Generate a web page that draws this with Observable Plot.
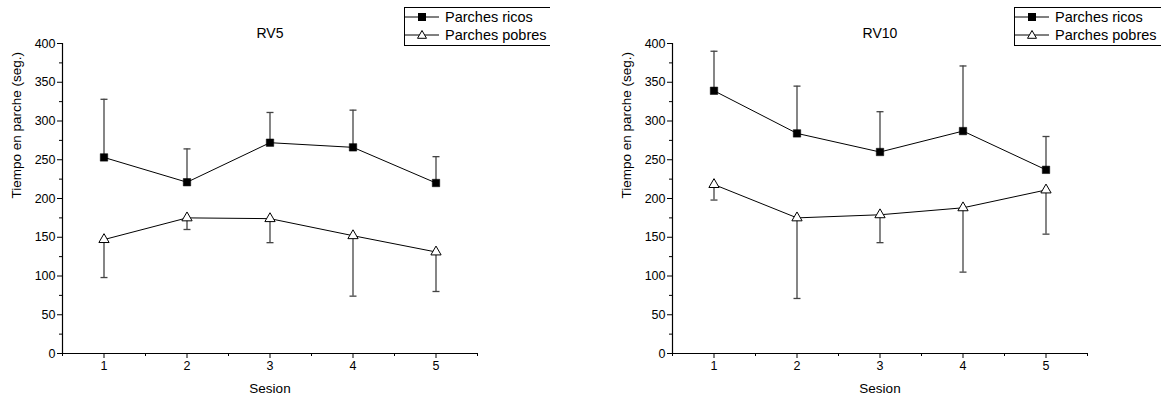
<!DOCTYPE html>
<html>
<head>
<meta charset="utf-8">
<script src="https://cdn.jsdelivr.net/npm/d3@7"></script>
<script src="https://cdn.jsdelivr.net/npm/@observablehq/plot@0.6"></script>
<style>
  html, body { margin: 0; padding: 0; background: #fff; }
  #wrap { position: relative; width: 1169px; height: 405px; display: flex; font-family: "Liberation Sans", Arial, sans-serif; }
  .panel { position: relative; }
  .legend { position: absolute; top: 7px; height: 37px; border: 1px solid #000; border-right: none; overflow: hidden; white-space: nowrap; font-size: 14.5px; background: #fff; }
  .legend .row { height: 18px; display: flex; align-items: center; }
  .legend svg { display: block; }
</style>
</head>
<body>
<div id="wrap"></div>
<script>
// ---- data ----
const sessions = [1, 2, 3, 4, 5];
const yTicks = [0, 50, 100, 150, 200, 250, 300, 350, 400];
const xTicks = [1, 2, 3, 4, 5];
const seriesNames = ["Parches ricos", "Parches pobres"];
const panelTitles = ["RV5", "RV10"];
const xLabel = "Sesion";
const yLabel = "Tiempo en parche (seg.)";

const rv5Ricos = [253, 221, 272, 266, 220];
const rv5RicosErr = [75, 43, 39, 48, 34];
const rv5Pobres = [147, 175, 174, 152, 131];
const rv5PobresErr = [49, 15, 31, 78, 51];

const rv10Ricos = [339, 284, 260, 287, 237];
const rv10RicosErr = [51, 61, 52, 84, 43];
const rv10Pobres = [218, 175, 179, 188, 211];
const rv10PobresErr = [20, 104, 36, 83, 57];

const hline = {
  draw(ctx, size) {
    const r = Math.sqrt(size / Math.PI);
    ctx.moveTo(-r, 0); ctx.lineTo(r, 0);
  }
};

function panel(title, ricos, ricosErr, pobres, pobresErr, width, mL, mR) {
  const R = sessions.map((s, i) => ({x: s, y: ricos[i], e: ricos[i] + ricosErr[i]}));
  const P = sessions.map((s, i) => ({x: s, y: pobres[i], e: pobres[i] - pobresErr[i]}));
  const minorX = d3.range(0.5, 5.51, 1);
  const minorY = d3.range(25, 400, 50);
  return Plot.plot({
    width, height: 405,
    marginLeft: mL, marginRight: mR, marginTop: 43, marginBottom: 52,
    style: {fontFamily: "'Liberation Sans', Arial, sans-serif", fontSize: "12.5px", overflow: "visible", color: "#000"},
    x: {domain: [0.5, 5.5]},
    y: {domain: [0, 400]},
    marks: [
      Plot.axisX(xTicks, {tickSize: 5, tickPadding: 3, fontSize: 12.5, label: null, tickFormat: d => String(d)}),
      Plot.axisX(minorX, {tickSize: 3, text: null, label: null}),
      Plot.axisY(yTicks, {tickSize: 5, tickPadding: 2, fontSize: 12.5, label: null}),
      Plot.axisY(minorY, {tickSize: 3, text: null, label: null}),
      Plot.ruleY([0], {stroke: "#000", strokeWidth: 1.2}),
      Plot.ruleX([0.5], {stroke: "#000", strokeWidth: 1.2}),
      // error bars
      Plot.ruleX(R, {x: "x", y1: "y", y2: "e", stroke: "#444", strokeWidth: 1.3}),
      Plot.dot(R, {x: "x", y: "e", symbol: hline, r: 3.5, stroke: "#444", strokeWidth: 1.3}),
      Plot.ruleX(P, {x: "x", y1: "y", y2: "e", stroke: "#444", strokeWidth: 1.3}),
      Plot.dot(P, {x: "x", y: "e", symbol: hline, r: 3.5, stroke: "#444", strokeWidth: 1.3}),
      // lines
      Plot.line(R, {x: "x", y: "y", stroke: "#000", strokeWidth: 1}),
      Plot.line(P, {x: "x", y: "y", stroke: "#000", strokeWidth: 1}),
      // markers
      Plot.dot(R, {x: "x", y: "y", symbol: "square", r: 4.2, fill: "#000", stroke: "#000", strokeWidth: 0.5}),
      Plot.dot(P, {x: "x", y: "y", symbol: "triangle", r: 3.8, fill: "#fff", stroke: "#000", strokeWidth: 1}),
      // titles
      Plot.text([title], {frameAnchor: "top", dy: -15, fontSize: 14, text: d => d}),
      Plot.text([xLabel], {frameAnchor: "bottom", dy: 39, fontSize: 13.5, text: d => d}),
      Plot.text([yLabel], {frameAnchor: "left", dx: -46, rotate: -90, fontSize: 13.5, text: d => d})
    ]
  });
}

function legend(left, clipWidth) {
  const div = document.createElement("div");
  div.className = "legend";
  div.style.left = left + "px";
  div.style.width = clipWidth + "px";
  seriesNames.forEach((name, i) => {
    const row = document.createElement("div");
    row.className = "row";
    const svg = d3.create("svg").attr("width", 40).attr("height", 18);
    svg.append("line").attr("x1", 0).attr("x2", 34).attr("y1", 9).attr("y2", 9).attr("stroke", "#000");
    if (i === 0) {
      svg.append("rect").attr("x", 13).attr("y", 5).attr("width", 8).attr("height", 8).attr("fill", "#000");
    } else {
      svg.append("path").attr("d", "M17,4.5 L21.5,12.3 L12.5,12.3 Z").attr("fill", "#fff").attr("stroke", "#000");
    }
    row.appendChild(svg.node());
    const t = document.createElement("span");
    t.textContent = name;
    row.appendChild(t);
    div.appendChild(row);
  });
  return div;
}

const wrap = document.getElementById("wrap");
const p1 = document.createElement("div"); p1.className = "panel";
p1.appendChild(panel(panelTitles[0], rv5Ricos, rv5RicosErr, rv5Pobres, rv5PobresErr, 585, 62, 108));
p1.appendChild(legend(404, 145));
const p2 = document.createElement("div"); p2.className = "panel";
p2.appendChild(panel(panelTitles[1], rv10Ricos, rv10RicosErr, rv10Pobres, rv10PobresErr, 584, 87, 82));
p2.appendChild(legend(1014 - 585, 146));
wrap.appendChild(p1);
wrap.appendChild(p2);
</script>
</body>
</html>
